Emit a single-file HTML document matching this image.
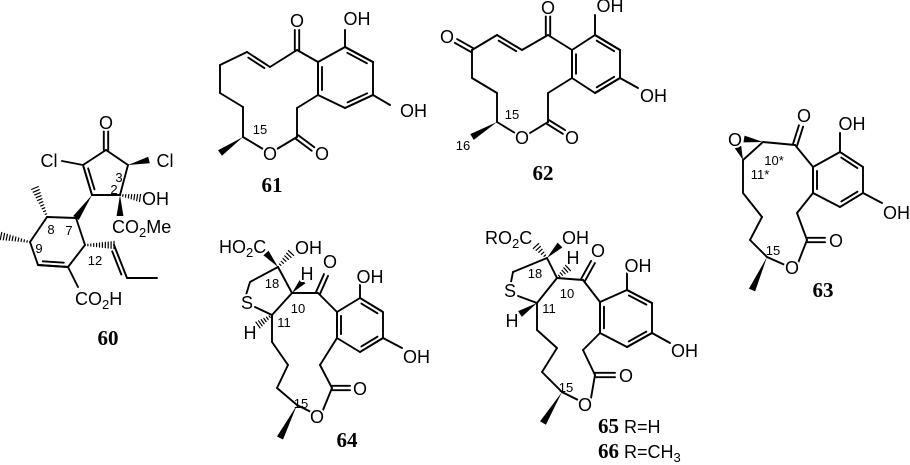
<!DOCTYPE html>
<html><head><meta charset="utf-8">
<style>
html,body{margin:0;padding:0;background:#fff;}
svg{display:block;}
text{font-family:"Liberation Sans",sans-serif;fill:#000;}
.a{font-size:18px;stroke:#fff;stroke-width:4px;paint-order:stroke;stroke-linejoin:round;}
.n{font-size:13px;}
.b{font-family:"Liberation Serif",serif;font-weight:bold;font-size:21px;}
</style></head>
<body>
<svg id="s" width="910" height="465" viewBox="0 0 910 465" xmlns="http://www.w3.org/2000/svg">
<g id="g" stroke="#000" stroke-width="1.9" fill="none" stroke-linecap="round"></g>
<g id="t"></g>
</svg>
<script>
var g=document.getElementById('g'),tg=document.getElementById('t'),NS='http://www.w3.org/2000/svg';
function el(n,a,p){var e=document.createElementNS(NS,n);for(var k in a)e.setAttribute(k,a[k]);(p||g).appendChild(e);return e;}
function L(){var a=arguments;for(var i=0;i+3<a.length;i+=2)el('line',{x1:a[i],y1:a[i+1],x2:a[i+2],y2:a[i+3]});}
function P(pts){for(var i=0;i+1<pts.length;i++)L(pts[i][0],pts[i][1],pts[i+1][0],pts[i+1][1]);}
function Di(x1,y1,x2,y2,cx,cy){var dx=x2-x1,dy=y2-y1,l=Math.hypot(dx,dy),nx=-dy/l,ny=dx/l;var mx=(x1+x2)/2,my=(y1+y2)/2;if((cx-mx)*nx+(cy-my)*ny<0){nx=-nx;ny=-ny;}var o=4,s=0.15;L(x1+dx*s+nx*o,y1+dy*s+ny*o,x2-dx*s+nx*o,y2-dy*s+ny*o);L(x1,y1,x2,y2);}
function Dc(x1,y1,x2,y2){var dx=x2-x1,dy=y2-y1,l=Math.hypot(dx,dy),nx=-dy/l*2.2,ny=dx/l*2.2;L(x1+nx,y1+ny,x2+nx,y2+ny);L(x1-nx,y1-ny,x2-nx,y2-ny);}
function W(ax,ay,bx,by){var dx=bx-ax,dy=by-ay,l=Math.hypot(dx,dy),nx=-dy/l*3.4,ny=dx/l*3.4;el('polygon',{points:ax+','+ay+' '+(bx+nx)+','+(by+ny)+' '+(bx-nx)+','+(by-ny),fill:'#000',stroke:'none'});}
function H(ax,ay,bx,by){var dx=bx-ax,dy=by-ay,l=Math.hypot(dx,dy),nx=-dy/l,ny=dx/l;var n=Math.max(4,Math.round(l/3));for(var i=1;i<=n;i++){var f=i/n,w=0.4+3.2*f,x=ax+dx*f,y=ay+dy*f;el('line',{x1:x+nx*w,y1:y+ny*w,x2:x-nx*w,y2:y-ny*w,'stroke-width':1.2});}}
function T(x,y,s,c,anc){var e=el('text',{x:x,y:y,'class':c||'a','text-anchor':anc||'middle'},tg);e.innerHTML=s;return e;}
var sub='<tspan dy="4" font-size="13">2</tspan><tspan dy="-4">';
// ===== 60 =====
L(106,150,128,165, 128,165,120,195, 120,195,92,195, 83,165,106,150);
Di(92,195,83,165,106,176);
Dc(106,150,106,131);T(106,129,'O');
L(83,165,62,161);T(49,167,'Cl');
W(128,165,149,160);T(165,167,'Cl');
H(120,195,140,198);T(142,205,'OH','a','start');
W(120,195,120,216);T(112,233,'CO'+sub+'Me</tspan>','a','start');
W(92,195,76,218);
P([[76,218],[47,217],[30,242],[38,265],[68,267],[85,245],[76,218]]);
Di(38,265,68,267,58,242);
H(47,217,35,188);H(30,242,1,236);
H(85,245,114,245);Di(114,245,127,278,108,270);L(127,278,157,278);
L(68,267,78,287);T(75,305,'CO'+sub+'H</tspan>','a','start');
T(119,182,'3','n');T(114,194,'2','n');T(51,234,'8','n');T(69,235,'7','n');T(39,253,'9','n');T(95,265,'12','n');
T(108,345,'60','b');
// ===== 61 =====
var r61=[[318,62],[345,47],[373,62],[373,95],[345,108],[318,95]];
P(r61.concat([r61[0]]));Di(318,62,318,95,345,78);Di(345,47,373,62,345,78);Di(373,95,345,108,345,78);
L(345,47,345,30);T(357,25,'OH');
L(373,95,390,105);T(400,117,'OH','a','start');
L(318,62,297,50);Dc(297,50,297,30);T(297,27,'O');
L(297,50,270,67);Di(270,67,247,52,250,75);
P([[247,52],[220,65],[220,93],[243,107],[243,137]]);
W(243,137,220,153);L(243,137,263,149);T(270,160,'O');L(277,149,297,137);
Dc(297,137,313,149);T(322,160,'O');L(297,137,297,108);L(297,108,318,95);
T(260,134,'15','n');T(272,192,'61','b');
// ===== 62 =====
var r62=[[572,50],[595,35],[620,50],[620,78],[595,93],[572,78]];
P(r62.concat([r62[0]]));Di(572,50,572,78,596,64);Di(595,35,620,50,596,64);Di(620,78,595,93,596,64);
L(595,35,595,15);T(610,12,'OH');
L(620,78,638,88);T(640,102,'OH','a','start');
L(572,50,548,35);Dc(548,35,548,16);T(548,14,'O');
L(548,35,522,50);Di(522,50,497,35,510,60);L(497,35,472,50);
Dc(472,50,456,41);T(447,43,'O');
P([[472,50],[472,78],[497,93],[497,122]]);
W(497,122,472,137);T(463,150,'16','n');
L(497,122,515,133);T(522,144,'O');L(530,133,548,122);
Dc(548,122,564,132);T(572,144,'O');L(548,122,548,93);L(548,93,572,78);
T(512,119,'15','n');T(543,180,'62','b');
// ===== 63 =====
var r63=[[813,167],[840,152],[863,167],[863,193],[840,207],[813,193]];
P(r63.concat([r63[0]]));Di(813,167,813,193,838,180);Di(840,152,863,167,838,180);Di(863,193,840,207,838,180);
L(840,152,840,133);T(852,130,'OH');
L(863,193,882,203);T(883,219,'OH','a','start');
L(813,167,795,145);Dc(795,145,801,126);T(804,122,'O');
L(795,145,763,142);L(763,142,743,160);
W(763,142,744,139);W(743,160,738,147);T(735,146,'O');
T(774,165,'10*','n');T(760,179,'11*','n');
P([[743,160],[743,193],[762,217],[750,240],[767,257]]);
W(767,257,752,290);L(767,257,785,265);T(792,274,'O');L(798,263,807,240);
Dc(807,240,825,240);T(836,247,'O');L(807,240,797,213);L(797,213,813,193);
T(773,255,'15','n');T(823,297,'63','b');
// ===== 64 =====
var r64=[[337,312],[360,298],[383,312],[383,338],[360,352],[337,338]];
P(r64.concat([r64[0]]));Di(337,312,337,338,360,325);Di(360,298,383,312,360,325);Di(383,338,360,352,360,325);
L(360,298,360,283);T(370,283,'OH');
L(383,338,402,348);T(403,363,'OH','a','start');
L(337,312,318,293);Dc(318,293,326,275);T(330,268,'O');
L(318,293,292,293);
T(219,253,'HO'+sub+'C</tspan>','a','start');
W(278,267,266,253);H(278,267,291,253);T(295,254,'OH','a','start');
L(278,267,292,293);L(278,267,250,282);L(250,282,246,295);T(247,309,'S');L(255,307,272,315);
L(272,315,292,293);W(292,293,303,281);T(307,280,'H');
H(272,315,258,325);T(250,339,'H');
P([[272,315],[272,342],[288,365],[277,388],[297,405]]);
W(297,405,280,438);L(297,405,311,412);T(317,423,'O');L(323,410,332,388);
Dc(332,388,350,388);T(360,395,'O');L(332,388,320,365);L(320,365,337,338);
T(272,288,'18','n');T(298,313,'10','n');T(284,327,'11','n');T(301,408,'15','n');
T(347,447,'64','b');
// ===== 65 =====
var r65=[[600,302],[627,290],[652,303],[652,333],[627,347],[600,333]];
P(r65.concat([r65[0]]));Di(600,302,600,333,626,318);Di(627,290,652,303,626,318);Di(652,333,627,347,626,318);
L(627,290,627,272);T(638,272,'OH');
L(652,333,670,343);T(671,357,'OH','a','start');
L(600,302,583,280);Dc(583,280,593,262);T(598,257,'O');
L(583,280,557,278);
T(485,244,'RO'+sub+'C</tspan>','a','start');
H(547,258,536,246);W(547,258,560,245);T(562,244,'OH','a','start');
L(547,258,557,278);L(547,258,513,272);L(513,272,511,282);T(510,297,'S');L(518,296,537,303);
L(537,303,557,278);H(557,278,568,268);T(573,264,'H');
W(537,303,520,314);T(512,327,'H');
P([[537,303],[537,330],[557,348],[542,372],[562,392]]);
W(562,392,543,423);L(562,392,578,400);T(585,411,'O');L(591,398,595,375);
Dc(595,375,615,375);T(626,382,'O');L(595,375,583,350);L(583,350,600,333);
T(535,278,'18','n');T(567,298,'10','n');T(549,313,'11','n');T(566,392,'15','n');
T(598,433,'65','b','start');T(624,433,'R=H','a','start');
T(598,458,'66','b','start');T(624,458,'R=CH<tspan dy="4" font-size="13">3</tspan>','a','start');
</script>
</body></html>
